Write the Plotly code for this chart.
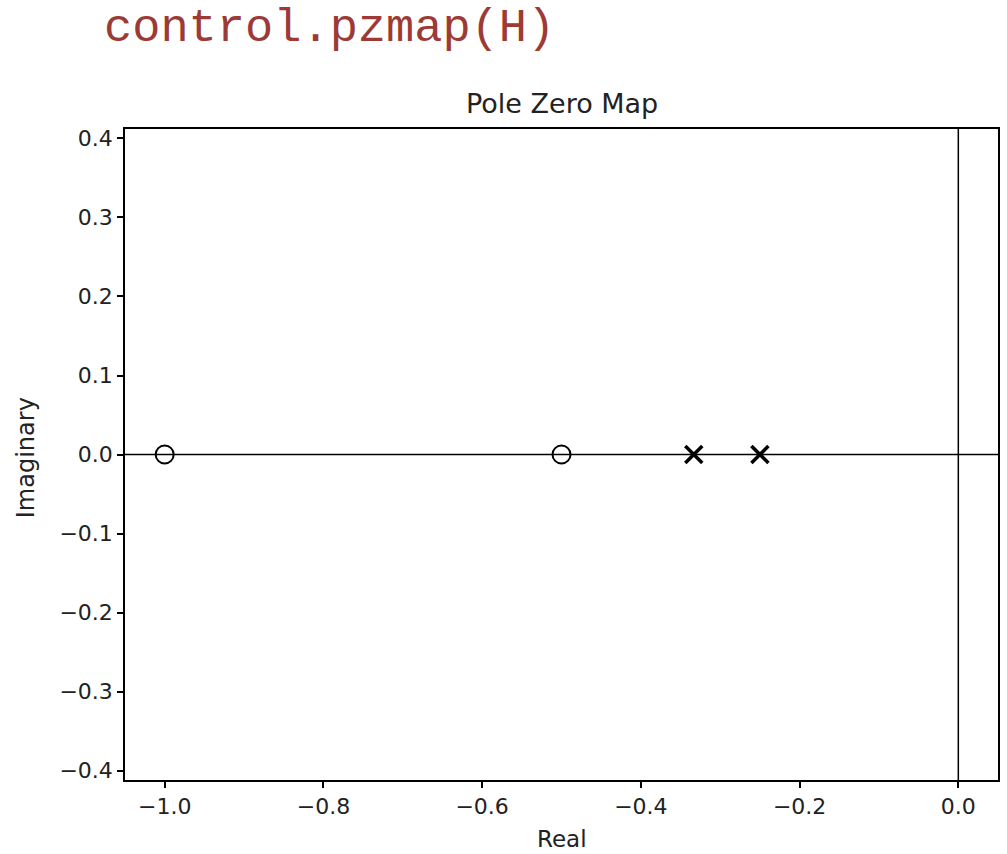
import plotly.graph_objects as go

# Data
zeros_real = [-1.0, -0.5]
zeros_imag = [0.0, 0.0]
poles_real = [-1/3, -0.25]
poles_imag = [0.0, 0.0]

x_ticks = [-1.0, -0.8, -0.6, -0.4, -0.2, 0.0]
x_ticktext = ["\u22121.0", "\u22120.8", "\u22120.6", "\u22120.4", "\u22120.2", "0.0"]
y_ticks = [0.4, 0.3, 0.2, 0.1, 0.0, -0.1, -0.2, -0.3, -0.4]
y_ticktext = ["0.4", "0.3", "0.2", "0.1", "0.0", "\u22120.1", "\u22120.2", "\u22120.3", "\u22120.4"]

x_range = [-1.05, 0.05]
y_range = [-0.412, 0.412]

W, H = 1007, 854
L, R, T, B = 125, 7, 129, 74
plot_h = H - T - B

fig = go.Figure()

# axis lines through origin
fig.add_hline(y=0, line=dict(color="black", width=1.5), layer="below")
fig.add_vline(x=0, line=dict(color="black", width=1.5), layer="below")

fig.add_trace(go.Scatter(
    x=zeros_real, y=zeros_imag, mode="markers", name="zeros",
    marker=dict(symbol="circle-open", size=18, color="black", line=dict(width=2, color="black")),
))
fig.add_trace(go.Scatter(
    x=poles_real, y=poles_imag, mode="markers", name="poles",
    marker=dict(symbol="x-thin-open", size=17, color="black", line=dict(width=3.5, color="black")),
))

tickfont = dict(family="DejaVu Sans", size=22, color="#222222")
fig.update_layout(
    width=W, height=H,
    margin=dict(l=L, r=R, t=T, b=B),
    paper_bgcolor="white", plot_bgcolor="white",
    showlegend=False,
    xaxis=dict(range=x_range, tickvals=x_ticks, ticktext=x_ticktext, ticks="outside",
               ticklen=6, tickwidth=1.5, tickcolor="black", tickfont=tickfont,
               showgrid=False, zeroline=False, showline=True, linecolor="black", linewidth=1.5,
               mirror=True),
    yaxis=dict(range=y_range, tickvals=y_ticks, ticktext=y_ticktext, ticks="outside",
               ticklen=6, tickwidth=1.5, tickcolor="black", tickfont=tickfont,
               showgrid=False, zeroline=False, showline=True, linecolor="black", linewidth=1.5,
               mirror=True),
)

def py(pix_y):
    return 1 + (T - pix_y) / plot_h

fig.add_annotation(text="control.pzmap(H)", xref="paper", yref="paper",
                   x=(102 - L) / (W - L - R), y=py(28), xanchor="left", yanchor="middle",
                   showarrow=False,
                   font=dict(family="Liberation Mono", size=47, color="#9c3b36"))
fig.add_annotation(text="Pole Zero Map", xref="paper", yref="paper",
                   x=0.5, y=py(103), xanchor="center", yanchor="middle", showarrow=False,
                   font=dict(family="DejaVu Sans", size=27, color="#222222"))
fig.add_annotation(text="Real", xref="paper", yref="paper",
                   x=0.5, y=py(839), xanchor="center", yanchor="middle", showarrow=False,
                   font=dict(family="DejaVu Sans", size=23, color="#222222"))
fig.add_annotation(text="Imaginary", xref="paper", yref="paper",
                   x=(26 - L) / (W - L - R), y=py(458), xanchor="center", yanchor="middle",
                   textangle=-90, showarrow=False,
                   font=dict(family="DejaVu Sans", size=24, color="#222222"))

fig.write_html("out.html")
